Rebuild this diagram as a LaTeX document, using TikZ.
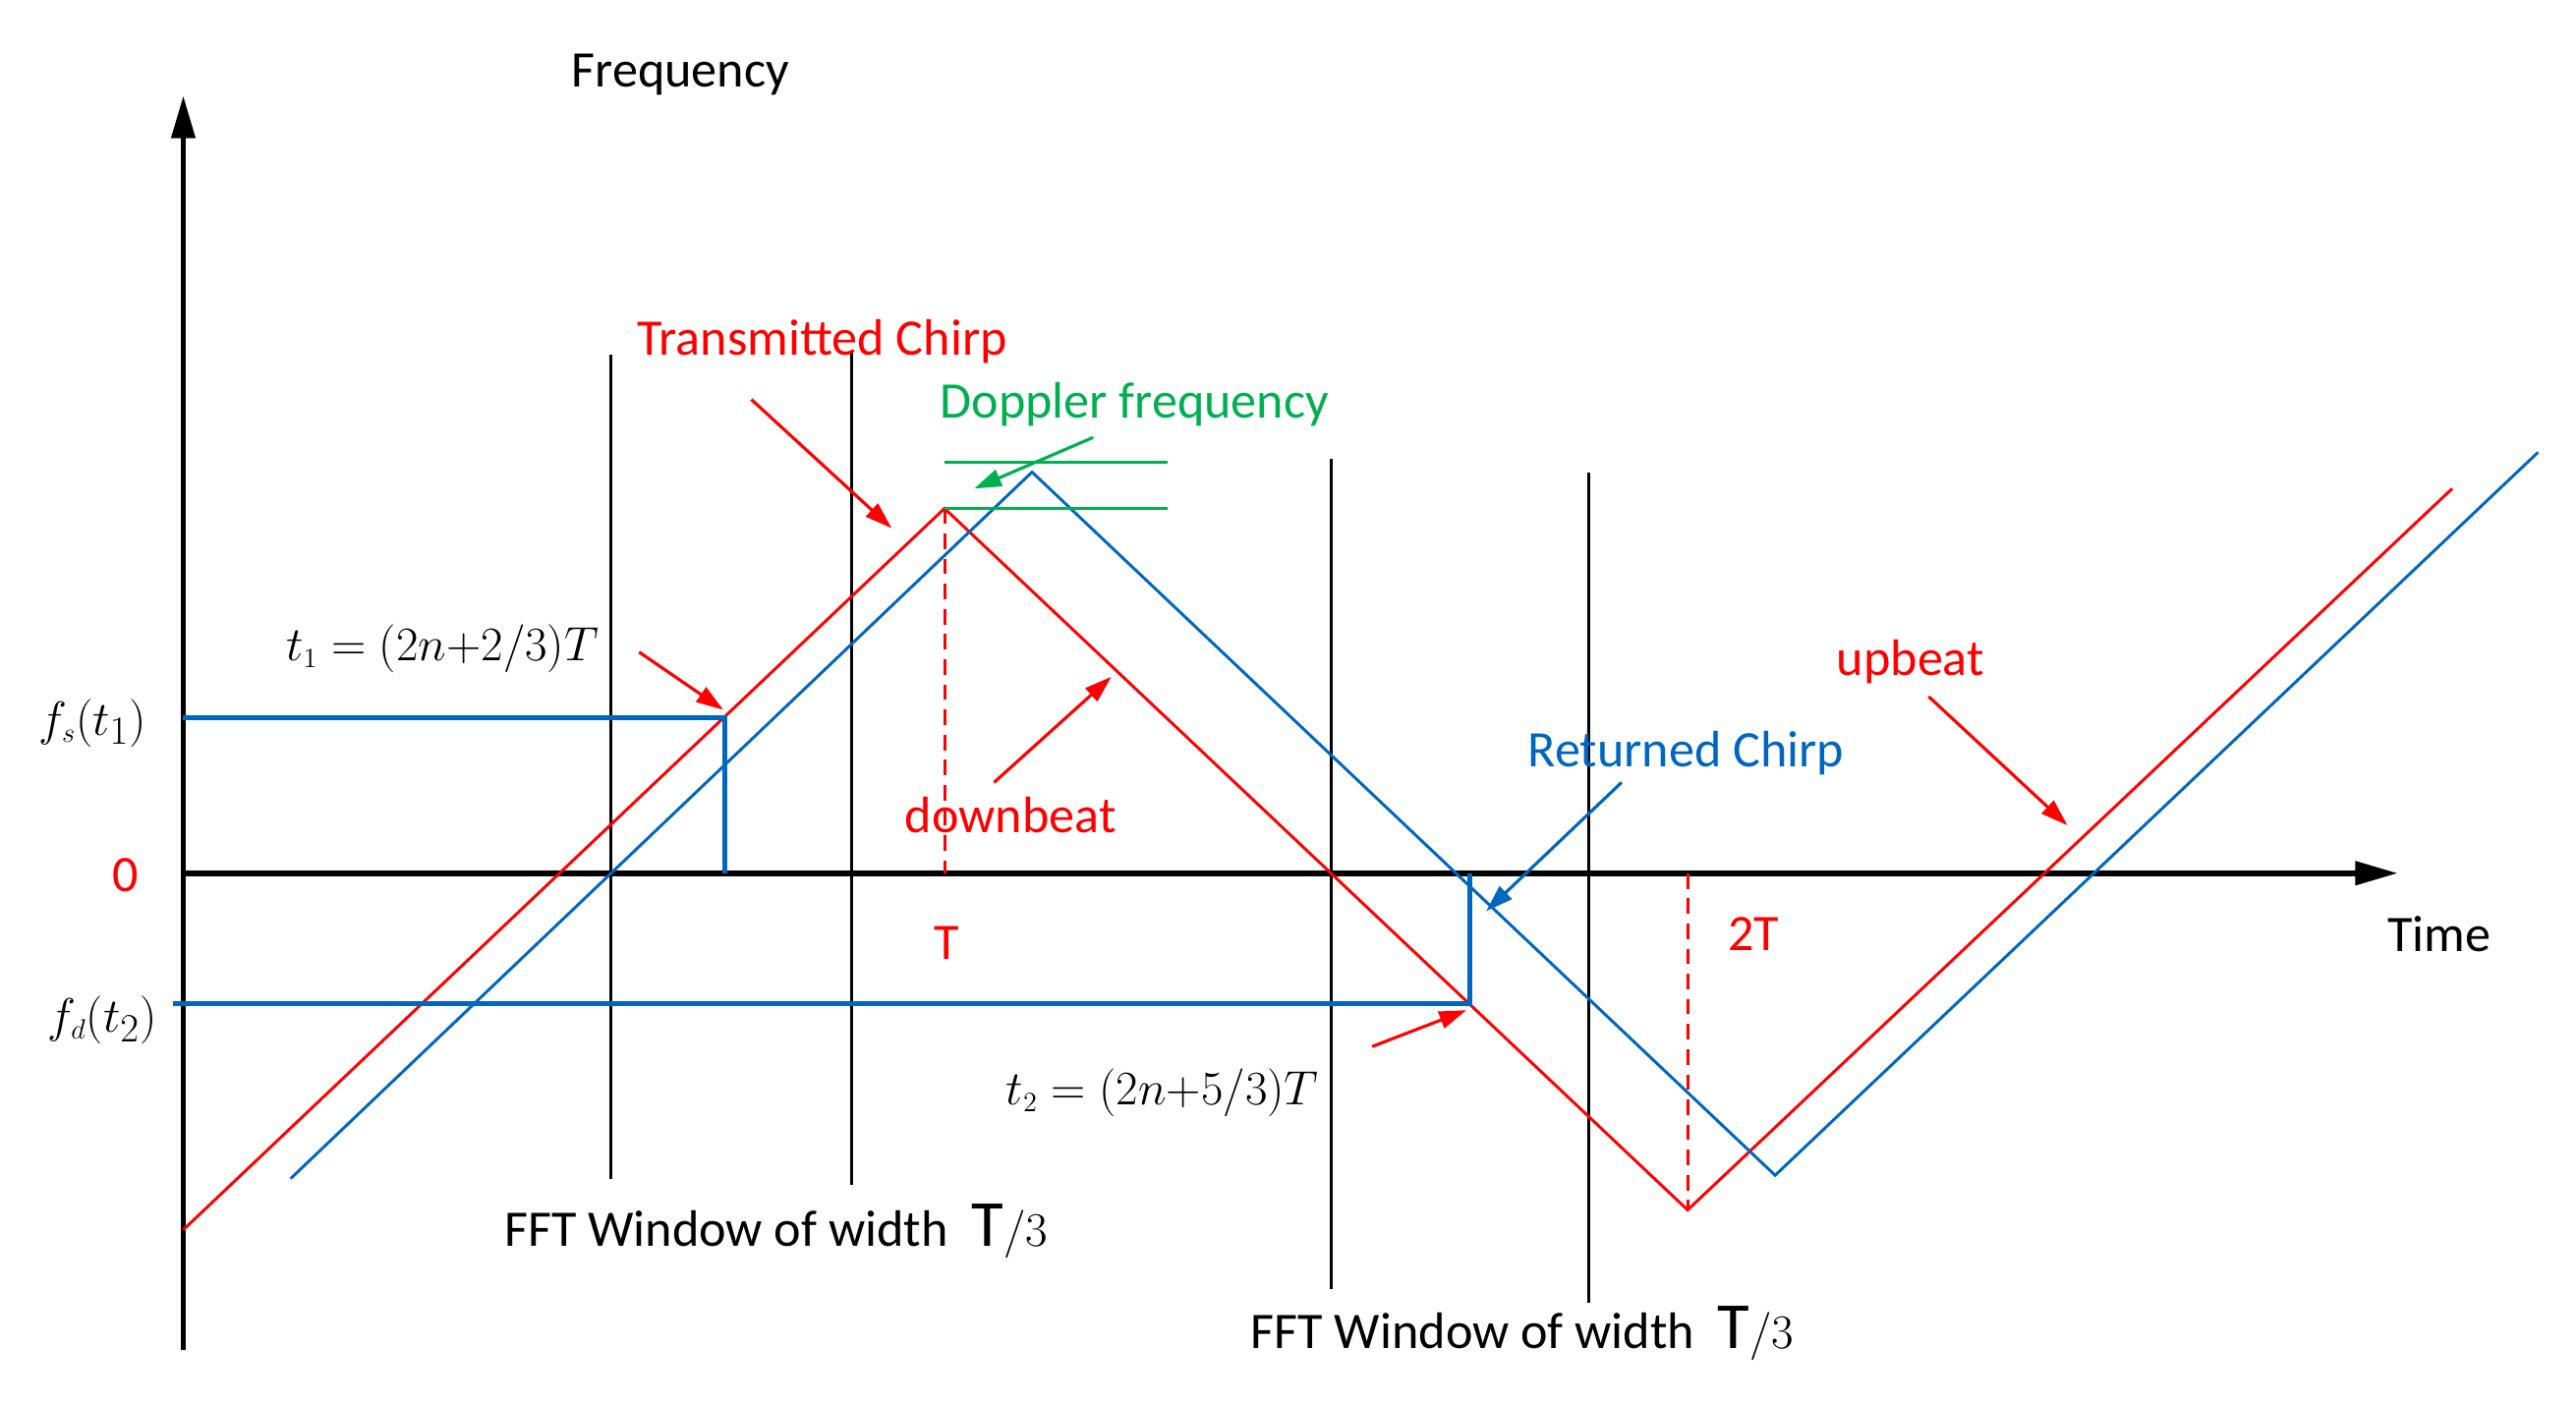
\documentclass[tikz,border=0pt]{standalone}
\usepackage{fontspec}
\setmainfont{Carlito}
\usetikzlibrary{arrows.meta}
\definecolor{cblue}{RGB}{0,102,190}
\definecolor{cgreen}{RGB}{0,176,80}
\begin{document}
\begin{tikzpicture}[x=0.03cm,y=-0.03cm,
  lbl/.style={font=\fontsize{26.5}{30}\selectfont,inner sep=0pt},
  axis/.style={line width=2.8pt,-{Triangle[length=22pt,width=12pt]}},
  win/.style={line width=1.5pt},
  ra/.style={red,line width=1.6pt,-{Triangle[length=14pt,width=9pt]}},
  sig/.style={line width=1.5pt},
  mth/.style={font=\fontsize{30}{34}\selectfont,inner sep=0pt}]
\useasboundingbox (0,0) rectangle (1560,849);
% axes
\coordinate (yo) at (111,818); \coordinate (yt) at (111,58);
\coordinate (xo) at (111,529); \coordinate (xt) at (1452,529);
\draw[axis] (yo) -- (yt);
\draw[axis] (xo) -- (xt);
% windows
\foreach \x/\a/\b in {370/215/714,516/213/718,806/278/781,962/286/789}
  \draw[win] (\x,\a) -- (\x,\b);
% chirps
\draw[sig,red] (111,745) -- (572,308) -- (1022,733) -- (1485,296);
\draw[sig,cblue] (176,714) -- (625,286) -- (1075,712) -- (1537,274);
\draw[red,dash pattern=on 8pt off 5pt,line width=1.5pt] (572,308) -- (572,529);
\draw[red,dash pattern=on 8pt off 5pt,line width=1.5pt] (1022,529) -- (1022,733);
% doppler
\draw[cgreen,line width=1.5pt] (572,280) -- (707,280);
\draw[cgreen,line width=1.5pt] (572,308) -- (707,308);
\draw[cgreen,line width=1.6pt,-{Triangle[length=14pt,width=9pt]}] (662,265) -- (590,296);
% blue markers
\draw[cblue,line width=2.5pt] (111,435) -- (439,435) -- (439,529);
\draw[cblue,line width=2.5pt] (105,608) -- (890,608) -- (890,529);
\draw[cblue,line width=1.6pt,-{Triangle[length=14pt,width=9pt]}] (982,474) -- (900,552);
% red arrows
\draw[ra] (455,242) -- (540,320);
\draw[ra] (387,395) -- (438,430);
\draw[ra] (602,474) -- (673,410);
\draw[ra] (1168,422) -- (1252,500);
\draw[ra] (831,634) -- (888,612);
% labels
\node[lbl] (fr) at (412,45) {Frequency};
\node[lbl,red] (tc) at (498,207) {Transmitted Chirp};
\node[lbl,cgreen] (df) at (687,245) {Doppler frequency};
\node[mth] (t1) at (268,393) {$t_{\scriptscriptstyle 1}=(2n{+}2/3)T$};
\node[mth] (fs) at (56,438) {$f_{\scriptscriptstyle s}(t_1)$};
\node[lbl,red] (z) at (76,530) {0};
\node[lbl,red] (db) at (612,494) {downbeat};
\node[lbl,red] (T) at (573,571) {T};
\node[lbl,cblue] (rc) at (1021,456) {Returned Chirp};
\node[lbl,red] (ub) at (1157,401) {upbeat};
\node[lbl,red] (TT) at (1062,566) {2T};
\node[lbl] (tm) at (1477,566) {Time};
\node[mth] (fd) at (62,618) {$f_{\scriptscriptstyle d}(t_2)$};
\node[mth] (t2) at (704,662) {$t_{\scriptscriptstyle 2}=(2n{+}5/3)T$};
\node[lbl] (w1) at (470,746) {FFT Window of width \ {\fontsize{34}{36}\selectfont$\mathrm{T}/3$}};
\node[lbl] (w2) at (922,808) {FFT Window of width \ {\fontsize{34}{36}\selectfont$\mathrm{T}/3$}};
\end{tikzpicture}
\end{document}
